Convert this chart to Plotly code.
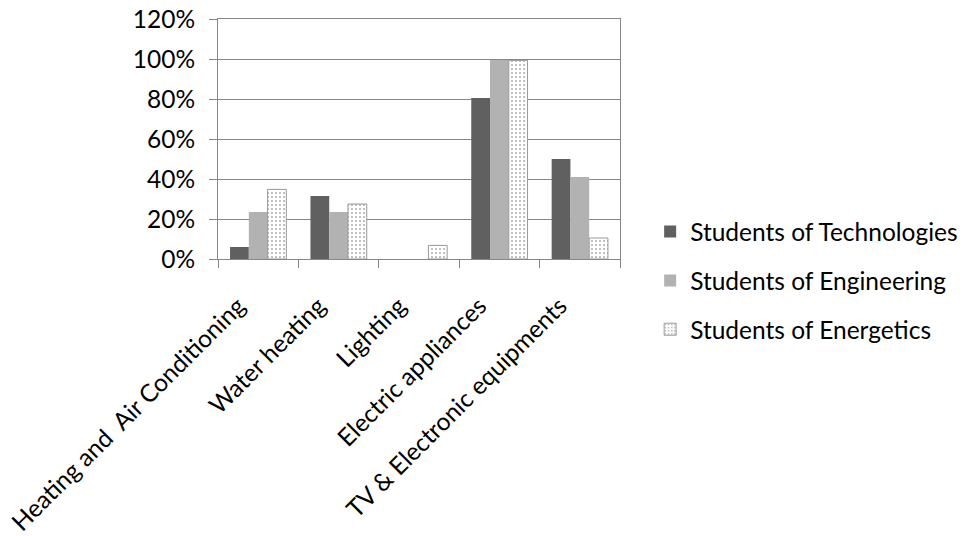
import plotly.graph_objects as go

# Energy use categories and share of students per group
categories = [
    "Heating and  Air Conditioning",
    "Water heating",
    "Lighting",
    "Electric appliances",
    "TV & Electronic equipments",
]
technologies = [0.06, 0.315, 0.0, 0.805, 0.50]
engineering = [0.235, 0.235, 0.0, 0.995, 0.41]
energetics = [0.348, 0.275, 0.068, 0.993, 0.105]

series_names = [
    "Students of Technologies",
    "Students of Engineering",
    "Students of Energetics",
]

FONT = "Lato"
FSIZE = 24.5
AXIS_GRAY = "#878787"

fig = go.Figure()

fig.add_trace(go.Bar(
    x=categories, y=technologies, name=series_names[0],
    legendgroup="a",
    marker=dict(color="#606060", line=dict(width=0)),
))
fig.add_trace(go.Bar(
    x=categories, y=engineering, name=series_names[1],
    legendgroup="b",
    marker=dict(color="#b2b2b2", line=dict(width=0)),
))
fig.add_trace(go.Bar(
    x=categories, y=energetics, name=series_names[2],
    legendgroup="c",
    marker=dict(
        color="white",
        line=dict(color="#9a9a9a", width=1),
        pattern=dict(shape=".", fgcolor="#555555", bgcolor="white",
                     size=4, solidity=0.2),
    ),
))

fig.update_layout(
    width=975, height=536,
    margin=dict(l=218, r=351, t=19, b=277),
    paper_bgcolor="white", plot_bgcolor="white",
    barmode="group", bargap=0.3, bargroupgap=0,
    font=dict(family=FONT, size=FSIZE, color="#000000"),
    showlegend=True,
    legend=dict(
        x=1.075, xanchor="left", y=-0.09, yanchor="middle",
        traceorder="grouped", tracegroupgap=14,
        itemwidth=30, font=dict(family=FONT, size=FSIZE),
        bgcolor="rgba(0,0,0,0)",
    ),
)

fig.update_xaxes(
    type="category",
    showline=True, linecolor=AXIS_GRAY, linewidth=1, mirror=True,
    ticks="outside", tickson="boundaries", ticklen=8, tickcolor=AXIS_GRAY,
    tickangle=-45, showgrid=False, automargin=False,
    ticklabelstandoff=22, ticklabelshift=-20,
    tickfont=dict(family=FONT, size=FSIZE),
)
fig.update_yaxes(
    range=[0, 1.2], dtick=0.2, tickformat=".0%",
    showline=True, linecolor=AXIS_GRAY, linewidth=1, mirror=True,
    ticks="outside", ticklen=8, tickcolor=AXIS_GRAY,
    ticklabelstandoff=9, automargin=False,
    showgrid=True, gridcolor=AXIS_GRAY, gridwidth=1,
    zeroline=False,
    tickfont=dict(family=FONT, size=FSIZE),
)

fig.write_html("out.html")
